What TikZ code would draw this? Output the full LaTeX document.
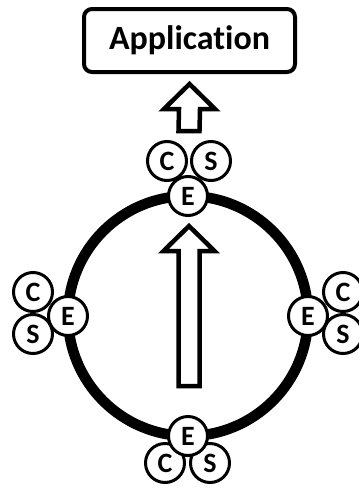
\documentclass[tikz,border=0pt]{standalone}
\usepackage{fontspec}
\setmainfont{Carlito}[Ligatures=NoCommon]
\usetikzlibrary{calc}
\tikzset{
      appbox/.style={
        rounded corners=8pt,
        draw=black,
        line width=4pt,
        fill=white,
        minimum width=211pt,
        minimum height=63pt,
        inner sep=0pt,
        font=\fontsize{34}{40}\selectfont\bfseries
      },
      letterdot/.style={
        circle,
        draw=black,
        line width=3pt,
        fill=white,
        minimum size=39pt,
        inner sep=0pt,
        font=\fontsize{28}{28}\selectfont\bfseries
      },
      blockarrow/.style={draw=black, line width=4.5pt, fill=white, line join=miter},
      ringline/.style={draw=black, line width=10.5pt}
    }

\begin{document}
\begin{tikzpicture}[x=1pt,y=-1pt]
    \useasboundingbox (0,0) rectangle (359,493);
    \node[appbox] (app) at (189.5,40.5) {Application};
    \coordinate (mid) at (188,316);
    \draw[ringline] (mid) circle (120);
    % top
    \node[letterdot] (ct) at (167,161) {C};
    \node[letterdot] (st) at (211,161) {S};
    \node[letterdot] (et) at ($(mid)+(0,-120)$) {E};
    % left
    \node[letterdot] (cl) at (33,292) {C};
    \node[letterdot] (sl) at (33,334) {S};
    \node[letterdot] (el) at ($(mid)+(-120,0)$) {E};
    % right
    \node[letterdot] (cr) at (343,292) {C};
    \node[letterdot] (sr) at (343,334) {S};
    \node[letterdot] (er) at ($(mid)+(120,0)$) {E};
    % bottom
    \node[letterdot] (cb) at (165,463) {C};
    \node[letterdot] (sb) at (210,463) {S};
    \node[letterdot] (eb) at ($(mid)+(0,120)$) {E};
    % arrows
    \coordinate (up1b) at ($(ct.north)!0.5!(st.north)+(0,-9)$);
    \coordinate (up1t) at ($(app.south)+(0,10)$);
    \coordinate (up2b) at ($(eb.north)+(1,-29)$);
    \coordinate (up2t) at ($(et.south)+(1,9)$);
    \foreach \b/\t in {up1b/up1t, up2b/up2t}
      \draw[blockarrow] ($(\b)+(-10.5,0)$) -- ($(\t)+(-10.5,25)$) -- ($(\t)+(-25.5,25)$) -- (\t)
        -- ($(\t)+(25.5,25)$) -- ($(\t)+(10.5,25)$) -- ($(\b)+(10.5,0)$) -- cycle;
    \end{tikzpicture}
\end{document}
